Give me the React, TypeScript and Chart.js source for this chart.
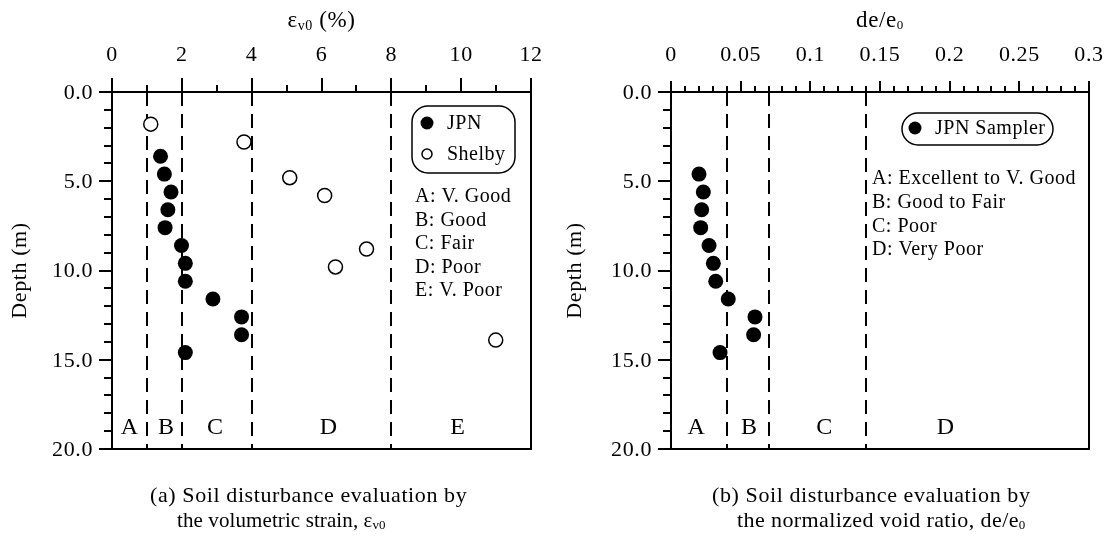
import React, { useEffect, useRef } from "react";
import { Chart, registerables } from "chart.js";
Chart.register(...registerables);

const SERIF = '"Liberation Serif", "Times New Roman", serif';

// ---------- Panel (a): volumetric strain ----------
const jpnDepthA = [3.6, 4.6, 5.6, 6.6, 7.6, 8.6, 9.6, 10.6, 11.6, 12.6, 13.6, 14.6];
const jpnStrain = [1.39, 1.5, 1.69, 1.6, 1.52, 1.99, 2.1, 2.1, 2.89, 3.71, 3.71, 2.1];
const shelbyDepth = [1.8, 2.8, 4.8, 5.8, 8.8, 9.8, 13.9];
const shelbyStrain = [1.11, 3.78, 5.09, 6.09, 7.29, 6.4, 10.99];
const strainBounds = [1, 2, 4, 8];
const strainZones = ["A", "B", "C", "D", "E"];
const strainZoneX = [0.5, 1.55, 2.95, 6.2, 9.9];
const strainTicks = [0, 2, 4, 6, 8, 10, 12];
const strainLegendClasses = ["A: V. Good", "B: Good", "C: Fair", "D: Poor", "E: V. Poor"];

// ---------- Panel (b): normalized void ratio ----------
const jpnDepthB = [4.6, 5.6, 6.6, 7.6, 8.6, 9.6, 10.6, 11.6, 12.6, 13.6, 14.6];
const jpnVoid = [0.0201, 0.0232, 0.022, 0.0213, 0.0273, 0.0304, 0.0321, 0.0411, 0.0603, 0.0593, 0.0352];
const voidBounds = [0.04, 0.07, 0.14];
const voidZones = ["A", "B", "C", "D"];
const voidZoneX = [0.018, 0.056, 0.11, 0.197];
const voidTicks = [0, 0.05, 0.1, 0.15, 0.2, 0.25, 0.3];
const voidTickLabels = ["0", "0.05", "0.1", "0.15", "0.2", "0.25", "0.3"];
const voidLegendClasses = ["A: Excellent to V. Good", "B: Good to Fair", "C: Poor", "D: Very Poor"];

// ---------- shared depth axis ----------
const depthTicks = [0, 5, 10, 15, 20];
const depthTickLabels = ["0.0", "5.0", "10.0", "15.0", "20.0"];

type Part = { t: string; size: number; dy?: number };

function setFont(ctx: CanvasRenderingContext2D, size: number, spacing = 0) {
  ctx.font = `${size}px ${SERIF}`;
  (ctx as any).letterSpacing = `${spacing}px`;
}

function drawParts(
  ctx: CanvasRenderingContext2D,
  parts: Part[],
  x: number,
  y: number,
  align: "left" | "center",
  spacing: number
) {
  let total = 0;
  const widths = parts.map((p) => {
    setFont(ctx, p.size, spacing);
    const w = ctx.measureText(p.t).width;
    total += w;
    return w;
  });
  let cx = align === "center" ? x - total / 2 : x;
  ctx.textAlign = "left";
  ctx.textBaseline = "middle";
  parts.forEach((p, i) => {
    setFont(ctx, p.size, spacing);
    ctx.fillText(p.t, cx, y + (p.dy || 0));
    cx += widths[i];
  });
}

type PanelCfg = {
  xMajor: number[];
  xMajorLabels: string[];
  xMinorStep: number;
  xMax: number;
  xMajorLen: number;
  xMinorLen: number;
  bounds: number[];
  zones: string[];
  zoneX: number[];
  title: Part[];
  yLabelX: number;
  caption1: string;
  caption2: Part[];
  cap2Spacing: number;
  capX1: number;
  capX2: number;
  legend: (ctx: CanvasRenderingContext2D) => void;
};

function makePlugin(cfg: PanelCfg) {
  return {
    id: "panelDecor",
    beforeDatasetsDraw(chart: any) {
      const { ctx, chartArea: a, scales } = chart;
      ctx.save();
      ctx.strokeStyle = "#000";
      ctx.lineWidth = 2;
      ctx.setLineDash([14, 8]);
      for (const v of cfg.bounds) {
        const px = Math.round(scales.x.getPixelForValue(v));
        ctx.beginPath();
        ctx.moveTo(px, a.top);
        ctx.lineTo(px, a.bottom);
        ctx.stroke();
      }
      ctx.setLineDash([]);
      ctx.restore();
    },
    afterDatasetsDraw(chart: any) {
      const { ctx, chartArea: a, scales } = chart;
      const xs = scales.x;
      const ys = scales.y;
      ctx.save();
      ctx.strokeStyle = "#000";
      ctx.fillStyle = "#000";
      ctx.lineWidth = 2;
      ctx.strokeRect(a.left, a.top, a.right - a.left, a.bottom - a.top);
      ctx.beginPath();
      const nMinor = Math.round(cfg.xMax / cfg.xMinorStep);
      for (let i = 0; i <= nMinor; i++) {
        const px = Math.round(xs.getPixelForValue(i * cfg.xMinorStep));
        ctx.moveTo(px, a.top);
        ctx.lineTo(px, a.top - cfg.xMinorLen);
      }
      for (const v of cfg.xMajor) {
        const px = Math.round(xs.getPixelForValue(v));
        ctx.moveTo(px, a.top);
        ctx.lineTo(px, a.top - cfg.xMajorLen);
      }
      for (let d = 0; d <= 20; d++) {
        const py = Math.round(ys.getPixelForValue(d));
        const len = d % 5 === 0 ? 13 : 8;
        ctx.moveTo(a.left, py);
        ctx.lineTo(a.left - len, py);
      }
      ctx.stroke();

      // tick labels
      setFont(ctx, 22, 0.6);
      ctx.textAlign = "center";
      ctx.textBaseline = "middle";
      cfg.xMajor.forEach((v, i) => {
        ctx.fillText(cfg.xMajorLabels[i], xs.getPixelForValue(v), a.top - 37);
      });
      ctx.textAlign = "right";
      depthTicks.forEach((v, i) => {
        ctx.fillText(depthTickLabels[i], a.left - 19, ys.getPixelForValue(v) + 1);
      });

      // axis titles
      drawParts(ctx, cfg.title, (a.left + a.right) / 2, 21, "center", 0.6);
      ctx.save();
      ctx.translate(cfg.yLabelX, (a.top + a.bottom) / 2);
      ctx.rotate(-Math.PI / 2);
      setFont(ctx, 22, 0.6);
      ctx.textAlign = "center";
      ctx.textBaseline = "middle";
      ctx.fillText("Depth (m)", 0, 0);
      ctx.restore();

      // zone letters
      setFont(ctx, 24, 0);
      ctx.textAlign = "center";
      ctx.textBaseline = "middle";
      cfg.zones.forEach((z, i) => {
        ctx.fillText(z, xs.getPixelForValue(cfg.zoneX[i]), ys.getPixelForValue(18.8));
      });

      // legend
      cfg.legend(ctx);

      // captions
      setFont(ctx, 22, 0.6);
      ctx.textAlign = "left";
      ctx.textBaseline = "middle";
      ctx.fillText(cfg.caption1, cfg.capX1, 496);
      drawParts(ctx, cfg.caption2, cfg.capX2, 521, "left", cfg.cap2Spacing);
      ctx.restore();
    },
  };
}

function legendA(ctx: CanvasRenderingContext2D) {
  ctx.save();
  ctx.lineWidth = 1.5;
  ctx.strokeStyle = "#000";
  ctx.beginPath();
  (ctx as any).roundRect(412, 106, 103, 67, 16);
  ctx.stroke();
  ctx.beginPath();
  ctx.arc(427, 123, 6.5, 0, Math.PI * 2);
  ctx.fill();
  ctx.beginPath();
  ctx.arc(427, 154, 5, 0, Math.PI * 2);
  ctx.fillStyle = "#fff";
  ctx.fill();
  ctx.stroke();
  ctx.fillStyle = "#000";
  setFont(ctx, 20, 0.5);
  ctx.textAlign = "left";
  ctx.textBaseline = "middle";
  ctx.fillText("JPN", 447, 124);
  ctx.fillText("Shelby", 447, 155);
  strainLegendClasses.forEach((s, i) => ctx.fillText(s, 415, 197 + i * 23.5));
  ctx.restore();
}

function legendB(ctx: CanvasRenderingContext2D) {
  // canvas (b) starts at page x = 555
  ctx.save();
  ctx.lineWidth = 1.5;
  ctx.strokeStyle = "#000";
  ctx.beginPath();
  (ctx as any).roundRect(902 - 555, 113, 151, 32, 16);
  ctx.stroke();
  ctx.beginPath();
  ctx.arc(915 - 555, 128, 6.5, 0, Math.PI * 2);
  ctx.fill();
  setFont(ctx, 20, 0.5);
  ctx.textAlign = "left";
  ctx.textBaseline = "middle";
  ctx.fillText("JPN Sampler", 935 - 555, 129);
  voidLegendClasses.forEach((s, i) => ctx.fillText(s, 872 - 555, 179 + i * 23.7));
  ctx.restore();
}

const cfgA: PanelCfg = {
  xMajor: strainTicks,
  xMajorLabels: strainTicks.map(String),
  xMinorStep: 1,
  xMax: 12,
  xMajorLen: 14,
  xMinorLen: 7,
  bounds: strainBounds,
  zones: strainZones,
  zoneX: strainZoneX,
  title: [
    { t: "ε", size: 23 },
    { t: "v0", size: 14, dy: 5 },
    { t: " (%)", size: 23 },
  ],
  yLabelX: 20,
  caption1: "(a) Soil disturbance evaluation by",
  caption2: [
    { t: "the volumetric strain, ε", size: 21 },
    { t: "v0", size: 13, dy: 5 },
  ],
  cap2Spacing: 0.1,
  capX1: 150,
  capX2: 177,
  legend: legendA,
};

const cfgB: PanelCfg = {
  xMajor: voidTicks,
  xMajorLabels: voidTickLabels,
  xMinorStep: 0.01,
  xMax: 0.3,
  xMajorLen: 11,
  xMinorLen: 6,
  bounds: voidBounds,
  zones: voidZones,
  zoneX: voidZoneX,
  title: [
    { t: "de/e", size: 23 },
    { t: "0", size: 13, dy: 5 },
  ],
  yLabelX: 20,
  caption1: "(b) Soil disturbance evaluation by",
  caption2: [
    { t: "the normalized void ratio, de/e", size: 22 },
    { t: "0", size: 13, dy: 5 },
  ],
  cap2Spacing: 0.4,
  capX1: 712 - 555,
  capX2: 737 - 555,
  legend: legendB,
};

function Panel(props: { left: number; cfg: PanelCfg; datasets: any[]; xMax: number; pad: any }) {
  const ref = useRef<HTMLCanvasElement | null>(null);
  useEffect(() => {
    const canvas = ref.current;
    if (!canvas) return;
    const chart = new Chart(canvas, {
      type: "scatter",
      data: { datasets: props.datasets },
      options: {
        responsive: false,
        animation: false,
        devicePixelRatio: 1,
        layout: { padding: props.pad },
        plugins: { legend: { display: false }, tooltip: { enabled: false } },
        scales: {
          x: { type: "linear", min: 0, max: props.xMax, display: false },
          y: { type: "linear", min: 0, max: 20, reverse: true, display: false },
        },
      },
      plugins: [makePlugin(props.cfg)],
    } as any);
    return () => chart.destroy();
  }, []);
  return (
    <canvas
      ref={ref}
      width={555}
      height={553}
      style={{ position: "absolute", left: props.left, top: 0, width: 555, height: 553 }}
    />
  );
}

const dsA = [
  {
    label: "JPN",
    data: jpnStrain.map((x, i) => ({ x, y: jpnDepthA[i] })),
    pointRadius: 7.5,
    backgroundColor: "#000",
    borderColor: "#000",
    borderWidth: 0,
  },
  {
    label: "Shelby",
    data: shelbyStrain.map((x, i) => ({ x, y: shelbyDepth[i] })),
    pointRadius: 7,
    backgroundColor: "#fff",
    borderColor: "#000",
    borderWidth: 1.5,
  },
];

const dsB = [
  {
    label: "JPN Sampler",
    data: jpnVoid.map((x, i) => ({ x, y: jpnDepthB[i] })),
    pointRadius: 7.5,
    backgroundColor: "#000",
    borderColor: "#000",
    borderWidth: 0,
  },
];

export default function App() {
  return (
    <div style={{ position: "absolute", left: 0, top: 0, width: 1110, height: 553, background: "#fff" }}>
      <Panel left={0} cfg={cfgA} datasets={dsA} xMax={12} pad={{ left: 112, right: 24, top: 92, bottom: 104 }} />
      <Panel left={555} cfg={cfgB} datasets={dsB} xMax={0.3} pad={{ left: 116, right: 21, top: 92, bottom: 104 }} />
    </div>
  );
}
